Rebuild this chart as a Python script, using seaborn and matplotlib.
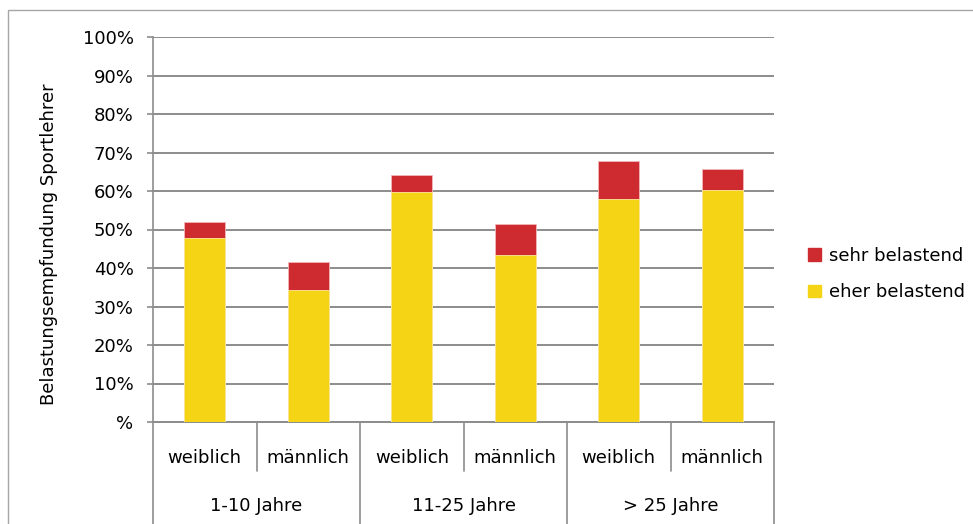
import matplotlib
matplotlib.use("Agg")
import matplotlib.pyplot as plt
import matplotlib.patches as mpatches
import matplotlib.transforms as mtransforms
import numpy as np
import pandas as pd
import seaborn as sns

# ---- data ----
groups = ["1-10 Jahre", "11-25 Jahre", "> 25 Jahre"]
sexes = ["weiblich", "männlich"]
eher_belastend = [47.8, 34.3, 59.8, 43.3, 58.0, 60.3]
sehr_belastend = [4.1, 7.2, 4.4, 8.1, 9.9, 5.3]
y_ticks = [0, 10, 20, 30, 40, 50, 60, 70, 80, 90, 100]
series_labels = ["sehr belastend", "eher belastend"]
ylabel_text = "Belastungsempfundung Sportlehrer"

# ---- styling ----
sns.set_theme(style="white")
plt.rcParams["font.family"] = ["DejaVu Sans"]
plt.rcParams["text.color"] = "black"
plt.rcParams["axes.labelcolor"] = "black"
plt.rcParams["xtick.labelcolor"] = "black"
plt.rcParams["ytick.labelcolor"] = "black"
FS = 13
RED = "#CD2B30"
YELLOW = "#F5D415"
GRID = "#8C8C8C"
FRAME = "#A6A6A6"

cats = [f"{g}|{s}" for g in groups for s in sexes]
df = pd.DataFrame({
    "cat": cats,
    "eher": eher_belastend,
    "sehr": sehr_belastend,
})
df["total"] = df["eher"] + df["sehr"]

W, H = 973, 524
fig = plt.figure(figsize=(W / 100, H / 100), dpi=100)
ax = fig.add_axes([153 / W, (H - 422) / H, (774 - 153) / W, (422 - 37) / H])

sns.barplot(data=df, x="cat", y="total", order=cats, color=RED, width=0.4,
            edgecolor="#F2B8BA", linewidth=0.6, saturation=1, ax=ax, zorder=3)
sns.barplot(data=df, x="cat", y="eher", order=cats, color=YELLOW, width=0.4,
            edgecolor="#FBEA9A", linewidth=0.6, saturation=1, ax=ax, zorder=4)

ax.set_xlim(-0.5, len(cats) - 0.5)
ax.set_ylim(0, 100)
ax.set_yticks(y_ticks)
ax.set_yticklabels([f"{v}%" if v > 0 else "%" for v in y_ticks], fontsize=FS,
                   color="black")
ax.yaxis.grid(True, color=GRID, linewidth=1.4, zorder=0)
ax.set_axisbelow(True)
ax.tick_params(axis="y", which="both", direction="out", length=4, width=1.2,
               color=GRID, pad=10, left=True)
ax.set_xticks(range(len(cats)))
ax.set_xticklabels([s for g in groups for s in sexes], fontsize=FS,
                   color="black")
ax.tick_params(axis="x", length=0, pad=19.5)
ax.set_xlabel("")
ax.set_ylabel(ylabel_text, fontsize=FS, color="black")
ax.yaxis.label.set_va("center")
ax.yaxis.set_label_coords((49 - 153) / (774 - 153), (422 - 244) / (422 - 37))

for side in ["top", "right"]:
    ax.spines[side].set_visible(False)
ax.spines["left"].set_color(GRID)
ax.spines["left"].set_linewidth(1.2)
ax.spines["bottom"].set_color(GRID)
ax.spines["bottom"].set_linewidth(1.4)

# category-axis separators
trans = mtransforms.blended_transform_factory(ax.transData, ax.transAxes)
ah = 422 - 37
short_y = (422 - 471) / ah
long_y = (422 - 524) / ah
n = len(cats)
for i in range(n + 1):
    xpos = i - 0.5
    ybot = long_y if i % 2 == 0 else short_y
    ax.plot([xpos, xpos], [0, ybot], transform=trans, color=GRID, lw=1.2,
            clip_on=False, zorder=5)

# group labels
for gi, g in enumerate(groups):
    ax.text(gi * 2 + 0.5, (422 - 506) / ah, g, transform=trans, ha="center",
            va="center", fontsize=FS, color="black")

# legend
handles = [mpatches.Patch(color=RED, label=series_labels[0]),
           mpatches.Patch(color=YELLOW, label=series_labels[1])]
leg = fig.legend(handles=handles, loc="center left",
                 bbox_to_anchor=(808 / W, (H - 274) / H), frameon=False,
                 fontsize=FS, handlelength=0.7, handleheight=0.7,
                 handletextpad=0.45, labelspacing=1.05, borderpad=0,
                 borderaxespad=0)
for t in leg.get_texts():
    t.set_color("black")

# outer chart frame
frame = mpatches.Rectangle((8 / W, -0.2), 1.2, 1 - 10 / H + 0.2,
                           transform=fig.transFigure, fill=False,
                           edgecolor=FRAME, linewidth=1.0, clip_on=False)
fig.patches.append(frame)

fig.savefig("out.png", dpi=100, facecolor="white")
